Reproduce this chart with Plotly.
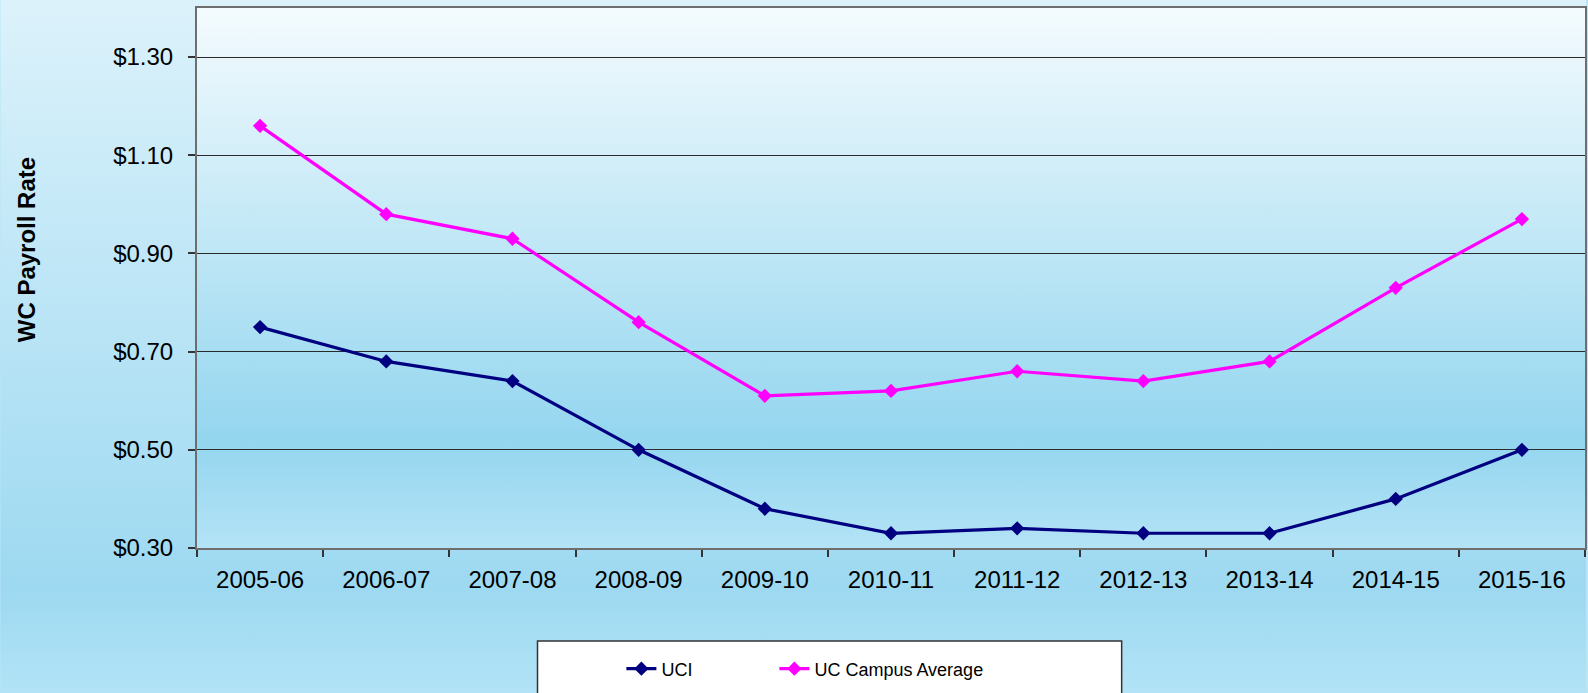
import base64
import plotly.graph_objects as go

# data
years = ["2005-06", "2006-07", "2007-08", "2008-09", "2009-10", "2010-11",
         "2011-12", "2012-13", "2013-14", "2014-15", "2015-16"]
uci = [0.75, 0.68, 0.64, 0.50, 0.38, 0.33, 0.34, 0.33, 0.33, 0.40, 0.50]
uc_avg = [1.16, 0.98, 0.93, 0.76, 0.61, 0.62, 0.66, 0.64, 0.68, 0.83, 0.97]
y_ticks = [0.30, 0.50, 0.70, 0.90, 1.10, 1.30]

W, H = 1588, 693
L, R, T, B = 197, 1, 8, 145
pw, ph = W - L - R, H - T - B


def gradient_svg(stops):
    parts = "".join('<stop offset="%s" stop-color="%s"/>' % s for s in stops)
    svg = ('<svg xmlns="http://www.w3.org/2000/svg" width="100" height="100" '
           'viewBox="0 0 100 100" preserveAspectRatio="none">'
           '<defs><linearGradient id="g" x1="0" y1="0" x2="0" y2="1">%s'
           '</linearGradient></defs><rect width="100" height="100" fill="url(#g)"/></svg>') % parts
    return "data:image/svg+xml;base64," + base64.b64encode(svg.encode()).decode()


paper_grad = gradient_svg([("0", "#dcf2fb"), ("0.85", "#9dd9f1"), ("1", "#b2e3f6")])
plot_grad = gradient_svg([("0", "#f4fbfe"), ("0.8", "#94d6ef"), ("1", "#b4e3f6")])

fig = go.Figure()

fig.add_trace(go.Scatter(
    x=years, y=uci, mode="lines+markers", name="UCI", legendwidth=108,
    line=dict(color="#000080", width=3.2),
    marker=dict(symbol="diamond", size=11, color="#000080")
))
fig.add_trace(go.Scatter(
    x=years, y=uc_avg, mode="lines+markers", name="UC Campus Average",
    line=dict(color="#ff00ff", width=3.2),
    marker=dict(symbol="diamond", size=11, color="#ff00ff")
))

# background gradients
fig.add_layout_image(dict(
    source=paper_grad, xref="paper", yref="paper",
    x=-L / pw, y=1 + T / ph, sizex=W / pw, sizey=H / ph,
    sizing="stretch", xanchor="left", yanchor="top", layer="below"
))
fig.add_layout_image(dict(
    source=plot_grad, xref="paper", yref="paper",
    x=0, y=1, sizex=1, sizey=1,
    sizing="stretch", xanchor="left", yanchor="top", layer="below"
))

# legend box
fig.add_shape(
    type="rect", xref="paper", yref="paper",
    x0=(538 - L) / pw, x1=(1123 - L) / pw,
    y0=(H - B - 641) / ph, y1=(H - B - 700) / ph,
    fillcolor="white", line=dict(color="#333333", width=1.5), layer="below"
)

fig.add_annotation(
    text="<b>WC Payroll Rate</b>", xref="paper", yref="paper",
    x=(26 - L) / pw, y=(H - B - 250) / ph, xanchor="center", yanchor="middle",
    showarrow=False, textangle=-90,
    font=dict(family="Liberation Sans, Arial", size=24, color="black")
)

fig.update_layout(
    width=W, height=H,
    margin=dict(l=L, r=R, t=T, b=B),
    paper_bgcolor="#b8e6f7",
    plot_bgcolor="rgba(0,0,0,0)",
    font=dict(family="Liberation Sans, Arial", size=24, color="black"),
    showlegend=True,
    legend=dict(
        orientation="h", xref="paper", yref="paper",
        x=(622 - L) / pw, xanchor="left",
        y=(H - B - 669) / ph, yanchor="middle",
        bgcolor="rgba(0,0,0,0)", borderwidth=0,
        font=dict(size=18, color="black")
    )
)

fig.update_xaxes(
    type="category", range=[-0.5, 10.5],
    tickson="boundaries", ticks="outside", ticklen=7, tickcolor="#333333", tickwidth=1.5,
    showline=True, linecolor="#6e6e6e", linewidth=2, mirror=True,
    showgrid=False, zeroline=False, ticklabelstandoff=9
)
fig.update_yaxes(
    range=[0.30, 1.40], tickvals=y_ticks, tickformat="$.2f",
    ticks="outside", ticklen=7, tickcolor="#333333", tickwidth=1.5,
    showline=True, linecolor="#6e6e6e", linewidth=2, mirror=True,
    showgrid=True, gridcolor="#2a2a2a", gridwidth=1, zeroline=False,
    ticklabelstandoff=10
)

fig.write_html("out.html", config={"displayModeBar": False},
               post_script="document.body.style.margin='0';")
